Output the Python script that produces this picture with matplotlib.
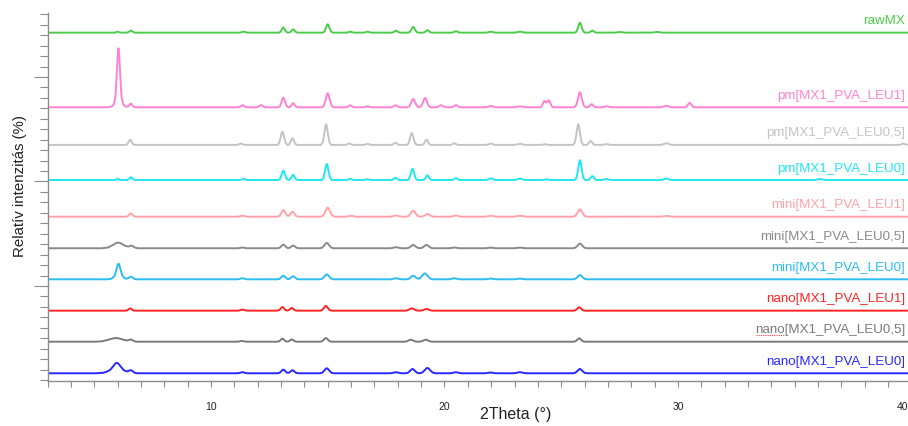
import matplotlib.pyplot as plt
from matplotlib.ticker import MultipleLocator, NullFormatter
from matplotlib.transforms import ScaledTranslation
import numpy as np

# Minták (fentről lefelé), eltolás és szín
minta_nevek = ['rawMX', 'pm[MX1_PVA_LEU1]', 'pm[MX1_PVA_LEU0,5]', 'pm[MX1_PVA_LEU0]',
               'mini[MX1_PVA_LEU1]', 'mini[MX1_PVA_LEU0,5]', 'mini[MX1_PVA_LEU0]',
               'nano[MX1_PVA_LEU1]', 'nano[MX1_PVA_LEU0,5]', 'nano[MX1_PVA_LEU0]']
eltolas = [342.4, 271, 235, 201.4, 166.3, 136.1, 106.4, 76.4, 46.7, 16.5]
szinek = ['#4ccb4c', '#ff82d2', '#c4c4c4', '#22e6f2', '#ffa2aa', '#8a8a8a',
          '#2cbcf2', '#ff2424', '#7a7a7a', '#2828ff']

# Csúcsok: (2Theta, magasság, fél alapszélesség)
raw_mx = [(6.0, 1, 0.15), (6.57, 2, 0.2), (11.4, 1, 0.2), (13.1, 5, 0.2), (13.52, 3.2, 0.2),
          (15.0, 8, 0.22), (15.96, 1, 0.2), (16.7, 1, 0.2), (17.92, 2, 0.2), (18.66, 5.5, 0.22),
          (19.27, 2.4, 0.2), (20.49, 1.5, 0.2), (21.98, 1, 0.25), (23.23, 1, 0.3),
          (25.8, 9.5, 0.22), (26.33, 2, 0.2), (27.5, 0.6, 0.3), (29.1, 0.7, 0.3)]
pm_leu1 = [(6.04, 50, 0.2), (6.04, 6.5, 0.45), (6.57, 3.5, 0.2), (11.35, 2, 0.22),
           (12.14, 2.2, 0.22), (13.1, 9.3, 0.22), (13.52, 4, 0.2), (15.0, 13.5, 0.25),
           (15.96, 2, 0.2), (16.7, 1, 0.2), (17.9, 2, 0.22), (18.66, 8, 0.25), (19.17, 9, 0.25),
           (19.85, 2, 0.25), (20.49, 2.2, 0.22), (21.98, 1.3, 0.25), (23.23, 1, 0.3),
           (24.28, 6, 0.2), (24.47, 6.7, 0.2), (25.8, 14.4, 0.25), (26.3, 3, 0.2),
           (26.94, 1, 0.25), (29.5, 1.5, 0.3), (30.5, 4.2, 0.22)]
pm_leu05 = [(6.54, 5, 0.2), (11.28, 1.3, 0.2), (13.06, 12.7, 0.22), (13.49, 6.4, 0.2),
            (14.93, 19.8, 0.22), (15.92, 1.3, 0.2), (16.7, 1, 0.2), (17.9, 2.2, 0.2),
            (18.6, 11.5, 0.22), (19.23, 5, 0.2), (20.42, 1.6, 0.2), (21.98, 1.3, 0.25),
            (23.23, 1, 0.3), (24.3, 0.7, 0.2), (25.73, 19.8, 0.22), (26.26, 3.8, 0.2),
            (26.94, 0.7, 0.25), (29.5, 1.6, 0.3), (39.65, 1.2, 0.2)]
pm_leu0 = [(6.0, 1.2, 0.15), (6.57, 2.6, 0.2), (11.4, 1.2, 0.2), (13.1, 9, 0.22),
           (13.52, 5, 0.2), (14.96, 15.3, 0.22), (15.96, 1.2, 0.2), (16.7, 0.7, 0.2),
           (17.9, 2.2, 0.2), (18.63, 10.8, 0.22), (19.27, 4.5, 0.2), (20.49, 1.9, 0.2),
           (21.98, 1.6, 0.25), (23.23, 1.4, 0.3), (24.37, 0.7, 0.2), (25.8, 19, 0.22),
           (26.33, 3.8, 0.2), (26.94, 1, 0.25), (29.5, 1.4, 0.3), (36.08, 1, 0.3)]
mini_leu1 = [(6.57, 3.2, 0.22), (11.35, 1, 0.25), (13.1, 6.4, 0.25), (13.49, 4.8, 0.25),
             (15.0, 8.6, 0.3), (16.0, 1, 0.25), (17.92, 1.2, 0.3), (18.66, 5.7, 0.3),
             (19.27, 2.6, 0.3), (20.49, 1.2, 0.3), (21.98, 1, 0.3), (23.23, 1, 0.35),
             (25.8, 7, 0.3), (29.5, 0.7, 0.35)]
mini_leu05 = [(6.03, 5.4, 0.7), (6.6, 2.2, 0.3), (11.35, 0.7, 0.25), (13.1, 3.5, 0.25),
              (13.52, 2.6, 0.25), (14.96, 5.1, 0.3), (17.92, 1, 0.3), (18.66, 3.2, 0.3),
              (19.23, 3.2, 0.3), (20.42, 0.7, 0.3), (21.98, 0.6, 0.3), (23.23, 0.6, 0.35),
              (25.8, 4.5, 0.3)]
mini_leu0 = [(6.04, 11, 0.25), (6.04, 4, 0.5), (6.57, 2.5, 0.25), (11.35, 1, 0.25),
             (13.1, 3.5, 0.25), (13.52, 2.9, 0.25), (14.96, 4.8, 0.3), (17.92, 1, 0.3),
             (18.66, 3.5, 0.3), (19.16, 5.7, 0.35), (20.42, 1, 0.3), (21.98, 0.7, 0.3),
             (23.23, 0.7, 0.3), (25.8, 4.1, 0.3)]
nano_leu1 = [(6.54, 2.2, 0.2), (11.35, 1, 0.25), (13.06, 3.5, 0.22), (13.46, 2.6, 0.22),
             (14.92, 4.5, 0.25), (18.6, 2.2, 0.3), (19.23, 1.6, 0.3), (25.77, 3.2, 0.25)]
nano_leu05 = [(5.93, 3.5, 0.9), (6.57, 1.8, 0.25), (11.32, 0.7, 0.25), (13.06, 2.9, 0.22),
              (13.46, 2.2, 0.22), (14.92, 3.5, 0.25), (18.56, 1.9, 0.3), (19.2, 1.9, 0.3),
              (25.77, 3.2, 0.25)]
nano_leu0 = [(5.97, 6, 0.45), (5.97, 4, 0.9), (6.57, 2.5, 0.25), (11.35, 1, 0.25),
             (13.1, 3.5, 0.25), (13.49, 2.9, 0.25), (14.96, 4.8, 0.3), (17.92, 1, 0.3),
             (18.63, 4.1, 0.3), (19.27, 5.1, 0.35), (20.49, 1, 0.3), (21.98, 0.7, 0.3),
             (23.23, 1, 0.35), (25.8, 4.1, 0.3)]

csucs_listak = [raw_mx, pm_leu1, pm_leu05, pm_leu0, mini_leu1, mini_leu05, mini_leu0,
                nano_leu1, nano_leu05, nano_leu0]

x_min, x_max = 3, 40

# egy csúcs körvonala (relatív hely a fél szélességhez, relatív magasság)
alak_x = [-1.0, -0.65, -0.35, -0.12, 0.0, 0.12, 0.35, 0.65, 1.0]
alak_y = [0.0, 0.12, 0.55, 0.93, 1.0, 0.93, 0.55, 0.12, 0.0]


def vonal(csucsok):
    """A csúcsok körvonalaiból összerakott töröttvonal."""
    xs = {x_min, x_max}
    for c, h, w in csucsok:
        xs.update(c + w * a for a in alak_x)
    xs = np.array(sorted(xs))
    ys = np.zeros_like(xs)
    for c, h, w in csucsok:
        ys += h * np.interp(xs, [c + w * a for a in alak_x], alak_y, left=0, right=0)
    return xs, ys


plt.rcParams['font.family'] = ['Liberation Sans', 'DejaVu Sans']

fig = plt.figure(figsize=(9.08, 4.26), dpi=100)
ax = fig.add_axes([47.5 / 908, 45 / 426, 864 / 908, 368 / 426])

cimkek = []
for nev, off, szin, csucsok in zip(minta_nevek, eltolas, szinek, csucs_listak):
    xs, ys = vonal(csucsok)
    ax.plot(xs, ys + off, color=szin, lw=1.4, solid_joinstyle='round')
    cimkek.append(ax.text(39.72, off + 11, nev, color=szin, fontsize=9.6,
                          ha='right', va='center'))

ax.set_xlim(x_min, x_max)
ax.set_ylim(9.1, 361.2)

ax.xaxis.set_major_locator(MultipleLocator(10))
ax.xaxis.set_minor_locator(MultipleLocator(1))
ax.yaxis.set_major_locator(MultipleLocator(100))
ax.yaxis.set_minor_locator(MultipleLocator(10))
ax.yaxis.set_major_formatter(NullFormatter())

for s in ['top', 'right']:
    ax.spines[s].set_visible(False)
for s in ['left', 'bottom']:
    ax.spines[s].set_color('#8c8c8c')
    ax.spines[s].set_linewidth(1.0)

ax.tick_params(axis='x', which='both', direction='out', length=4, width=0.8,
               color='#8c8c8c', labelsize=7.5, pad=11, labelcolor='#222222')
ax.tick_params(axis='y', which='major', direction='out', length=10, width=0.8, color='#8c8c8c')
ax.tick_params(axis='y', which='minor', direction='out', length=6, width=0.8, color='#8c8c8c')

fig.text(516 / 908, 1 - 415 / 426, '2Theta (°)', fontsize=11.5, ha='center', va='center',
         color='#222222')
fig.text(20 / 908, 1 - 186 / 426, 'Relatív intenzitás (%)', fontsize=10.8, rotation=90,
         ha='center', va='center', color='#222222')

# az utolsó (40-es) feliratot beljebb toljuk, hogy látszódjon
fig.canvas.draw()
for lab in ax.get_xticklabels():
    if lab.get_text() == '40':
        lab.set_transform(lab.get_transform() + ScaledTranslation(-9 / 100, 0, fig.dpi_scale_trans))

# helyesírás-ellenőrző piros aláhúzása a "nano" szó alatt
bb = cimkek[8].get_window_extent()
x0 = bb.x0 + 1
x1 = bb.x0 + bb.width * 0.197
yy = bb.y0 + 1
fig.add_artist(plt.Line2D([x0 / 908, x1 / 908], [yy / 426, yy / 426], color='#ff4040',
                          lw=0.8, ls=(0, (1, 1))))

plt.savefig('out.png', dpi=100)
